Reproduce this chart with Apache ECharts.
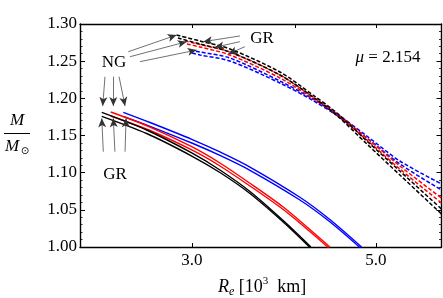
<!DOCTYPE html>
<html><head><meta charset="utf-8">
<script src="https://cdn.jsdelivr.net/npm/echarts@6/dist/echarts.min.js"></script>
<style>html,body{margin:0;padding:0;background:#fff}#c{width:443px;height:298px}</style>
</head><body><div id="c"></div>
<script>
// axis ticks
const xTickValues = [3.0, 5.0];
const xTopTickValues = [3.0, 4.0, 5.0];
const yMin = 1.0, yMax = 1.3, yStep = 0.05;
const xMin = 2.2, xMax = 6.0;

// solid curves (R_e in 10^3 km, M/Msun)
const solidBlackNG = [[2.337,1.1812],[2.647,1.1574],[3.0,1.1265],[3.244,1.1036],[3.526,1.0747],[3.867,1.0356],[4.176,1.0]];
const solidBlackGR = [[2.337,1.1758],[2.647,1.1527],[3.0,1.1224],[3.244,1.1002],[3.526,1.0720],[3.867,1.0336],[4.176,0.998]];
const solidRedNG = [[2.396,1.1816],[2.672,1.1614],[3.0,1.1349],[3.244,1.1130],[3.526,1.0857],[3.867,1.0538],[4.164,1.0235],[4.401,1.0]];
const solidRedGR = [[2.396,1.1762],[2.672,1.1567],[3.0,1.1305],[3.244,1.1090],[3.526,1.0821],[3.867,1.0504],[4.164,1.0208],[4.401,0.9973]];
const solidBlueNG = [[2.481,1.1812],[2.672,1.1675],[3.0,1.1449],[3.244,1.1279],[3.526,1.1076],[4.05,1.0669],[4.401,1.0370],[4.806,1.0]];
const solidBlueGR = [[2.481,1.1758],[2.672,1.1624],[3.0,1.1399],[3.244,1.1232],[3.526,1.1032],[4.05,1.0632],[4.401,1.0339],[4.806,0.9973]];

// dashed curves
const dashBlackNG = [[2.877,1.2852],[3.069,1.2771],[3.335,1.2664],[3.832,1.2354],[4.199,1.2045],[4.488,1.1803],[4.877,1.1426],[5.345,1.1022],[6.0,1.0511]];
const dashBlackGR = [[2.887,1.2812],[3.069,1.2731],[3.335,1.2623],[3.832,1.2314],[4.199,1.2018],[4.488,1.1769],[4.877,1.1386],[5.345,1.0969],[6.0,1.0444]];
const dashRedNG = [[2.944,1.2771],[3.069,1.2724],[3.335,1.2623],[3.832,1.2314],[4.199,1.2018],[4.488,1.1796],[4.877,1.1466],[5.345,1.1090],[6.0,1.0659]];
const dashRedGR = [[2.960,1.2731],[3.069,1.2691],[3.335,1.2583],[3.832,1.2274],[4.199,1.1998],[4.488,1.1776],[4.877,1.1439],[5.345,1.1049],[6.0,1.0592]];
const dashBlueNG = [[2.985,1.2650],[3.069,1.2623],[3.335,1.2543],[3.832,1.2233],[4.199,1.1991],[4.488,1.1789],[4.877,1.1493],[5.345,1.1157],[6.0,1.0848]];
const dashBlueGR = [[3.002,1.2610],[3.069,1.2583],[3.335,1.2502],[3.832,1.2206],[4.199,1.1971],[4.488,1.1769],[4.877,1.1466],[5.345,1.1117],[6.0,1.0767]];

// annotation arrows [from, to] in data units
const arrowsSolidNG = [[[2.358,1.2291],[2.343,1.1897]],[[2.413,1.2291],[2.413,1.1897]],[[2.452,1.2291],[2.493,1.1897]]];
const arrowsSolidGR = [[[2.347,1.1282],[2.337,1.1731]],[[2.424,1.1282],[2.413,1.1731]],[[2.493,1.1282],[2.500,1.1731]]];
const arrowsDashNG = [[[2.5155,1.2627],[2.877,1.2852]],[[2.5274,1.2560],[2.958,1.2762]],[[2.5984,1.2493],[3.041,1.2650]]];
const arrowsDashGR = [[[3.429,1.2839],[3.097,1.2762]],[[3.429,1.2762],[3.1996,1.2687]],[[3.477,1.2695],[3.320,1.2596]]];

const SERIF = '"Liberation Serif","DejaVu Serif",serif';
const BLACK = '#000000', RED = '#ff0000', BLUE = '#0000ff';

function solid(data, color) {
  return {type:'line', data, showSymbol:false, smooth:0.3, silent:true,
    lineStyle:{color, width:1.4, type:'solid'}, z:3};
}
function dashed(data, color) {
  return {type:'line', data, showSymbol:false, smooth:0.3, silent:true,
    lineStyle:{color, width:1.5, type:[4,2]}, z:3};
}
const allArrows = [].concat(arrowsSolidNG, arrowsSolidGR, arrowsDashNG, arrowsDashGR)
  .map(a => [{coord:a[0]},{coord:a[1]}]);

const series = [
  dashed(dashBlueNG, BLUE), dashed(dashBlueGR, BLUE),
  dashed(dashRedNG, RED), dashed(dashRedGR, RED),
  dashed(dashBlackNG, BLACK), dashed(dashBlackGR, BLACK),
  solid(solidBlueNG, BLUE), solid(solidBlueGR, BLUE),
  solid(solidRedNG, RED), solid(solidRedGR, RED),
  solid(solidBlackNG, BLACK), solid(solidBlackGR, BLACK)
];
series[0].markLine = {silent:true, symbol:['none','arrow'], symbolSize:[6,9], animation:false,
  label:{show:false}, lineStyle:{color:'#333', width:0.7, type:'solid'},
  emphasis:{disabled:true}, data: allArrows};

const chart = echarts.init(document.getElementById('c'), null, {renderer:'canvas'});
const axisLine = {show:true, onZero:false, lineStyle:{color:'#000', width:1.4}};
chart.setOption({
  animation:false,
  backgroundColor:'#fff',
  grid:{left:80, right:1.5, top:24, bottom:51, containLabel:false},
  xAxis:[
    {type:'log', logBase:10, min:xMin, max:xMax, position:'bottom', axisLine,
     axisTick:{show:true, inside:true, length:4, lineStyle:{color:'#000', width:1}, customValues:xTickValues},
     axisLabel:{show:true, customValues:xTickValues, formatter:v=>Number(v).toFixed(1), margin:5,
       fontFamily:SERIF, fontSize:17, color:'#000'},
     splitLine:{show:false}, minorTick:{show:false}},
    {type:'log', logBase:10, min:xMin, max:xMax, position:'top', axisLine,
     axisTick:{show:true, inside:true, length:4, lineStyle:{color:'#000', width:1}, customValues:xTopTickValues},
     axisLabel:{show:false, customValues:xTopTickValues}, splitLine:{show:false}}
  ],
  yAxis:[
    {type:'value', min:yMin, max:yMax, interval:yStep, position:'left', axisLine,
     axisTick:{show:true, inside:true, length:5, lineStyle:{color:'#000', width:1}},
     minorTick:{show:true, splitNumber:5, length:2.5, lineStyle:{color:'#000', width:0.8}},
     axisLabel:{formatter:v=>v.toFixed(2), margin:3, fontFamily:SERIF, fontSize:17, color:'#000'},
     splitLine:{show:false}},
    {type:'value', min:yMin, max:yMax, interval:yStep, position:'right', axisLine,
     axisTick:{show:true, inside:true, length:5, lineStyle:{color:'#000', width:1}},
     minorTick:{show:true, splitNumber:5, length:2.5, lineStyle:{color:'#000', width:0.8}},
     axisLabel:{show:false}, splitLine:{show:false}}
  ],
  series,
  graphic:[
    {type:'text', left:218, top:276, silent:true, style:{
      text:'{r|R}{s|e}{n| [10}{p|3}{n|  km]}', fontFamily:SERIF, fill:'#000',
      rich:{
        r:{fontFamily:SERIF, fontSize:18, fontStyle:'italic', lineHeight:22, verticalAlign:'middle'},
        s:{fontFamily:SERIF, fontSize:12, fontStyle:'italic', lineHeight:22, verticalAlign:'bottom'},
        n:{fontFamily:SERIF, fontSize:18, lineHeight:22, verticalAlign:'middle'},
        p:{fontFamily:SERIF, fontSize:11, lineHeight:22, verticalAlign:'top'}
      }}},
    {type:'text', x:17, y:121, silent:true, style:{text:'M', fontFamily:SERIF, fontSize:17, fontStyle:'italic', fill:'#000', align:'center', verticalAlign:'middle'}},
    {type:'line', silent:true, shape:{x1:4, y1:133.5, x2:30, y2:133.5}, style:{stroke:'#000', lineWidth:1}},
    {type:'text', x:12, y:147, silent:true, style:{text:'M', fontFamily:SERIF, fontSize:17, fontStyle:'italic', fill:'#000', align:'center', verticalAlign:'middle'}},
    {type:'text', x:25, y:151, silent:true, style:{text:'\u2299', fontFamily:'"DejaVu Sans",sans-serif', fontSize:10, fill:'#000', align:'center', verticalAlign:'middle'}},
    {type:'text', x:114, y:63, silent:true, style:{text:'NG', fontFamily:SERIF, fontSize:17, fill:'#000', align:'center', verticalAlign:'middle'}},
    {type:'text', x:262, y:39, silent:true, style:{text:'GR', fontFamily:SERIF, fontSize:17, fill:'#000', align:'center', verticalAlign:'middle'}},
    {type:'text', x:115, y:175, silent:true, style:{text:'GR', fontFamily:SERIF, fontSize:17, fill:'#000', align:'center', verticalAlign:'middle'}},
    {type:'text', x:388, y:58, silent:true, style:{text:'{i|\u03bc} = 2.154', fontFamily:SERIF, fontSize:17, fill:'#000', align:'center', verticalAlign:'middle',
      rich:{i:{fontFamily:SERIF, fontSize:17, fontStyle:'italic'}}}}
  ]
});
</script>
</body></html>
